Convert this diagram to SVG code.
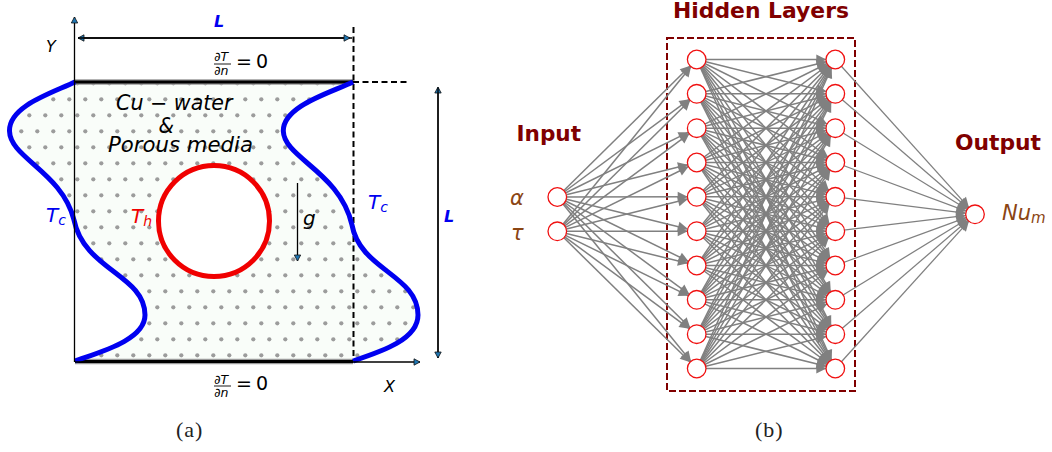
<svg xmlns="http://www.w3.org/2000/svg" width="1052" height="452" viewBox="0 0 1052 452">
<style>
.t{font-family:"DejaVu Sans",sans-serif}
.i{font-style:italic}
.ax{stroke:#000;stroke-width:1.3;fill:none;marker-end:url(#ah)}
.wb{stroke:#9a9a9a;stroke-width:5.500;fill:none}
.wk{stroke:#000;stroke-width:3;fill:none}
.dash{stroke:#000;stroke-width:2;stroke-dasharray:6 3.500;fill:none}
.blue{stroke:#0000f0;stroke-width:5;fill:none}
.hd{font-family:"DejaVu Sans",sans-serif;font-weight:bold;fill:#800000}
.br{fill:#8b4513;font-size:21px;font-style:italic;font-family:"DejaVu Sans",sans-serif}
.cap{font-family:"Liberation Serif",serif;font-size:22px;letter-spacing:1px;fill:#222}
.n{fill:#fff;stroke:#f01010;stroke-width:1.3}
#conn line{stroke:#808080;stroke-width:1.5;marker-end:url(#gh)}
#conn g.o line{stroke-width:1.25}
</style>
<defs>
<pattern id="dots" patternUnits="userSpaceOnUse" width="16" height="32">
<rect width="16" height="32" fill="#f9fdf9"/>
<circle cx="5.3" cy="3.3" r="2.100" fill="#9c9c9c"/>
<circle cx="13.3" cy="19.3" r="2.100" fill="#9c9c9c"/>
</pattern>
<marker id="gh" markerUnits="userSpaceOnUse" markerWidth="20" markerHeight="12" refX="19" refY="5" orient="auto" overflow="visible">
<path d="M0,0L10,5L0,10z" fill="#808080"/>
</marker>
<marker id="ah" markerUnits="userSpaceOnUse" markerWidth="8" markerHeight="8" refX="6" refY="3.2" orient="auto" overflow="visible">
<path d="M0,0L6,3.2L0,6.4z" fill="#1f77b4" stroke="#111" stroke-width="0.8"/>
</marker>
</defs>

<g id="panel-a">
<path id="domain" fill="url(#dots)" d="M75,82 C52,93 9,106 9.5,131 C10,158 62,172 74,220 C84,270 145,275 145,315 C145,340 100,352 75,361 L353,361 C380,352 418,340 418,315 C418,275 360,270 352,225 C340,172 284,158 283.3,131 C283,106 330,93 353,82 Z"/>
<line class="wb" x1="75" y1="82" x2="353" y2="82"/>
<line class="wk" x1="75" y1="82" x2="353" y2="82"/>
<line class="wb" x1="75" y1="361.500" x2="353" y2="361.500"/>
<line class="wk" x1="75" y1="361.500" x2="353" y2="361.500"/>
<line class="dash" x1="353.500" y1="27" x2="353.500" y2="361"/>
<line class="dash" x1="353" y1="82" x2="410" y2="82"/>
<path class="blue" d="M75,82 C52,93 9,106 9.5,131 C10,158 62,172 74,220 C84,270 145,275 145,315 C145,340 100,352 75,361"/>
<path class="blue" d="M353,82 C330,93 283,106 283.3,131 C284,158 340,172 352,225 C360,270 418,275 418,315 C418,340 380,352 353,361"/>
<line class="ax" x1="74.500" y1="362" x2="74.500" y2="17"/>
<line class="ax" x1="75" y1="362" x2="420" y2="362"/>
<line class="ax" x1="352" y1="38" x2="78" y2="38"/>
<line class="ax" x1="78" y1="38" x2="350" y2="38"/>
<line class="ax" x1="438" y1="358" x2="438" y2="87"/>
<line class="ax" x1="438" y1="88" x2="438" y2="358"/>
<line class="ax" x1="297.500" y1="183" x2="297.500" y2="261"/>
<circle id="cylinder" cx="214" cy="221" r="55.500" fill="#fff" stroke="#f00000" stroke-width="5"/>
<text class="t i" x="214" y="27" font-size="16" font-weight="bold" fill="#0000f0">L</text>
<text class="t i" x="46" y="52" font-size="16">Y</text>
<text class="t i" x="214" y="61" font-size="12.500">∂T</text>
<line x1="214" y1="64" x2="231" y2="64" stroke="#000" stroke-width="0.900"/>
<text class="t i" x="214" y="75" font-size="12.500">∂n</text>
<text class="t" x="236" y="68" font-size="19" word-spacing="-2">= 0</text>
<text class="t i" x="116" y="110" font-size="20.500" textLength="116.500" lengthAdjust="spacingAndGlyphs">Cu − water</text>
<text class="t i" x="158.500" y="132.700" font-size="20.500" textLength="15.500" lengthAdjust="spacingAndGlyphs">&amp;</text>
<text class="t i" x="108" y="152" font-size="20.500" textLength="145" lengthAdjust="spacingAndGlyphs">Porous media</text>
<text class="t i" x="46" y="222" font-size="20" fill="#0000f0">T<tspan font-size="14" dy="3">c</tspan></text>
<text class="t i" x="131" y="223" font-size="20" fill="#f00000">T<tspan font-size="14" dy="3">h</tspan></text>
<text class="t i" x="303" y="225" font-size="20">g</text>
<text class="t i" x="368" y="209" font-size="20" fill="#0000f0">T<tspan font-size="14" dy="3">c</tspan></text>
<text class="t i" x="444" y="222" font-size="16" font-weight="bold" fill="#0000f0">L</text>
<text class="t i" x="214" y="384" font-size="12.500">∂T</text>
<line x1="214" y1="386" x2="231" y2="386" stroke="#000" stroke-width="0.900"/>
<text class="t i" x="214" y="397" font-size="12.500">∂n</text>
<text class="t" x="236" y="390" font-size="19" word-spacing="-2">= 0</text>
<text class="t i" x="384" y="392" font-size="16">X</text>
<text class="cap" x="176" y="437">(a)</text>
</g>

<g id="panel-b">
<rect id="hidden-box" x="667" y="38" width="188" height="353" fill="none" stroke="#800000" stroke-width="2" stroke-dasharray="7 3"/>
<g id="conn">
<g>
<line x1="557.300" y1="197" x2="696.700" y2="59.500"/><line x1="557.300" y1="197" x2="696.700" y2="93.800"/><line x1="557.300" y1="197" x2="696.700" y2="128.200"/><line x1="557.300" y1="197" x2="696.700" y2="162.500"/><line x1="557.300" y1="197" x2="696.700" y2="196.800"/><line x1="557.300" y1="197" x2="696.700" y2="231.200"/><line x1="557.300" y1="197" x2="696.700" y2="265.500"/><line x1="557.300" y1="197" x2="696.700" y2="299.800"/><line x1="557.300" y1="197" x2="696.700" y2="334.200"/><line x1="557.300" y1="197" x2="696.700" y2="368.500"/>
<line x1="557.300" y1="231.300" x2="696.700" y2="59.500"/><line x1="557.300" y1="231.300" x2="696.700" y2="93.800"/><line x1="557.300" y1="231.300" x2="696.700" y2="128.200"/><line x1="557.300" y1="231.300" x2="696.700" y2="162.500"/><line x1="557.300" y1="231.300" x2="696.700" y2="196.800"/><line x1="557.300" y1="231.300" x2="696.700" y2="231.200"/><line x1="557.300" y1="231.300" x2="696.700" y2="265.500"/><line x1="557.300" y1="231.300" x2="696.700" y2="299.800"/><line x1="557.300" y1="231.300" x2="696.700" y2="334.200"/><line x1="557.300" y1="231.300" x2="696.700" y2="368.500"/>
</g>
<g>
<line x1="696.700" y1="59.500" x2="835.300" y2="59.500"/><line x1="696.700" y1="59.500" x2="835.300" y2="93.800"/><line x1="696.700" y1="59.500" x2="835.300" y2="128.200"/><line x1="696.700" y1="59.500" x2="835.300" y2="162.500"/><line x1="696.700" y1="59.500" x2="835.300" y2="196.800"/><line x1="696.700" y1="59.500" x2="835.300" y2="231.200"/><line x1="696.700" y1="59.500" x2="835.300" y2="265.500"/><line x1="696.700" y1="59.500" x2="835.300" y2="299.800"/><line x1="696.700" y1="59.500" x2="835.300" y2="334.200"/><line x1="696.700" y1="59.500" x2="835.300" y2="368.500"/>
<line x1="696.700" y1="93.800" x2="835.300" y2="59.500"/><line x1="696.700" y1="93.800" x2="835.300" y2="93.800"/><line x1="696.700" y1="93.800" x2="835.300" y2="128.200"/><line x1="696.700" y1="93.800" x2="835.300" y2="162.500"/><line x1="696.700" y1="93.800" x2="835.300" y2="196.800"/><line x1="696.700" y1="93.800" x2="835.300" y2="231.200"/><line x1="696.700" y1="93.800" x2="835.300" y2="265.500"/><line x1="696.700" y1="93.800" x2="835.300" y2="299.800"/><line x1="696.700" y1="93.800" x2="835.300" y2="334.200"/><line x1="696.700" y1="93.800" x2="835.300" y2="368.500"/>
<line x1="696.700" y1="128.200" x2="835.300" y2="59.500"/><line x1="696.700" y1="128.200" x2="835.300" y2="93.800"/><line x1="696.700" y1="128.200" x2="835.300" y2="128.200"/><line x1="696.700" y1="128.200" x2="835.300" y2="162.500"/><line x1="696.700" y1="128.200" x2="835.300" y2="196.800"/><line x1="696.700" y1="128.200" x2="835.300" y2="231.200"/><line x1="696.700" y1="128.200" x2="835.300" y2="265.500"/><line x1="696.700" y1="128.200" x2="835.300" y2="299.800"/><line x1="696.700" y1="128.200" x2="835.300" y2="334.200"/><line x1="696.700" y1="128.200" x2="835.300" y2="368.500"/>
<line x1="696.700" y1="162.500" x2="835.300" y2="59.500"/><line x1="696.700" y1="162.500" x2="835.300" y2="93.800"/><line x1="696.700" y1="162.500" x2="835.300" y2="128.200"/><line x1="696.700" y1="162.500" x2="835.300" y2="162.500"/><line x1="696.700" y1="162.500" x2="835.300" y2="196.800"/><line x1="696.700" y1="162.500" x2="835.300" y2="231.200"/><line x1="696.700" y1="162.500" x2="835.300" y2="265.500"/><line x1="696.700" y1="162.500" x2="835.300" y2="299.800"/><line x1="696.700" y1="162.500" x2="835.300" y2="334.200"/><line x1="696.700" y1="162.500" x2="835.300" y2="368.500"/>
<line x1="696.700" y1="196.800" x2="835.300" y2="59.500"/><line x1="696.700" y1="196.800" x2="835.300" y2="93.800"/><line x1="696.700" y1="196.800" x2="835.300" y2="128.200"/><line x1="696.700" y1="196.800" x2="835.300" y2="162.500"/><line x1="696.700" y1="196.800" x2="835.300" y2="196.800"/><line x1="696.700" y1="196.800" x2="835.300" y2="231.200"/><line x1="696.700" y1="196.800" x2="835.300" y2="265.500"/><line x1="696.700" y1="196.800" x2="835.300" y2="299.800"/><line x1="696.700" y1="196.800" x2="835.300" y2="334.200"/><line x1="696.700" y1="196.800" x2="835.300" y2="368.500"/>
<line x1="696.700" y1="231.200" x2="835.300" y2="59.500"/><line x1="696.700" y1="231.200" x2="835.300" y2="93.800"/><line x1="696.700" y1="231.200" x2="835.300" y2="128.200"/><line x1="696.700" y1="231.200" x2="835.300" y2="162.500"/><line x1="696.700" y1="231.200" x2="835.300" y2="196.800"/><line x1="696.700" y1="231.200" x2="835.300" y2="231.200"/><line x1="696.700" y1="231.200" x2="835.300" y2="265.500"/><line x1="696.700" y1="231.200" x2="835.300" y2="299.800"/><line x1="696.700" y1="231.200" x2="835.300" y2="334.200"/><line x1="696.700" y1="231.200" x2="835.300" y2="368.500"/>
<line x1="696.700" y1="265.500" x2="835.300" y2="59.500"/><line x1="696.700" y1="265.500" x2="835.300" y2="93.800"/><line x1="696.700" y1="265.500" x2="835.300" y2="128.200"/><line x1="696.700" y1="265.500" x2="835.300" y2="162.500"/><line x1="696.700" y1="265.500" x2="835.300" y2="196.800"/><line x1="696.700" y1="265.500" x2="835.300" y2="231.200"/><line x1="696.700" y1="265.500" x2="835.300" y2="265.500"/><line x1="696.700" y1="265.500" x2="835.300" y2="299.800"/><line x1="696.700" y1="265.500" x2="835.300" y2="334.200"/><line x1="696.700" y1="265.500" x2="835.300" y2="368.500"/>
<line x1="696.700" y1="299.800" x2="835.300" y2="59.500"/><line x1="696.700" y1="299.800" x2="835.300" y2="93.800"/><line x1="696.700" y1="299.800" x2="835.300" y2="128.200"/><line x1="696.700" y1="299.800" x2="835.300" y2="162.500"/><line x1="696.700" y1="299.800" x2="835.300" y2="196.800"/><line x1="696.700" y1="299.800" x2="835.300" y2="231.200"/><line x1="696.700" y1="299.800" x2="835.300" y2="265.500"/><line x1="696.700" y1="299.800" x2="835.300" y2="299.800"/><line x1="696.700" y1="299.800" x2="835.300" y2="334.200"/><line x1="696.700" y1="299.800" x2="835.300" y2="368.500"/>
<line x1="696.700" y1="334.200" x2="835.300" y2="59.500"/><line x1="696.700" y1="334.200" x2="835.300" y2="93.800"/><line x1="696.700" y1="334.200" x2="835.300" y2="128.200"/><line x1="696.700" y1="334.200" x2="835.300" y2="162.500"/><line x1="696.700" y1="334.200" x2="835.300" y2="196.800"/><line x1="696.700" y1="334.200" x2="835.300" y2="231.200"/><line x1="696.700" y1="334.200" x2="835.300" y2="265.500"/><line x1="696.700" y1="334.200" x2="835.300" y2="299.800"/><line x1="696.700" y1="334.200" x2="835.300" y2="334.200"/><line x1="696.700" y1="334.200" x2="835.300" y2="368.500"/>
<line x1="696.700" y1="368.500" x2="835.300" y2="59.500"/><line x1="696.700" y1="368.500" x2="835.300" y2="93.800"/><line x1="696.700" y1="368.500" x2="835.300" y2="128.200"/><line x1="696.700" y1="368.500" x2="835.300" y2="162.500"/><line x1="696.700" y1="368.500" x2="835.300" y2="196.800"/><line x1="696.700" y1="368.500" x2="835.300" y2="231.200"/><line x1="696.700" y1="368.500" x2="835.300" y2="265.500"/><line x1="696.700" y1="368.500" x2="835.300" y2="299.800"/><line x1="696.700" y1="368.500" x2="835.300" y2="334.200"/><line x1="696.700" y1="368.500" x2="835.300" y2="368.500"/>
</g>
<g class="o">
<line x1="835.300" y1="59.500" x2="975" y2="214.300"/><line x1="835.300" y1="93.800" x2="975" y2="214.300"/><line x1="835.300" y1="128.200" x2="975" y2="214.300"/><line x1="835.300" y1="162.500" x2="975" y2="214.300"/><line x1="835.300" y1="196.800" x2="975" y2="214.300"/><line x1="835.300" y1="231.200" x2="975" y2="214.300"/><line x1="835.300" y1="265.500" x2="975" y2="214.300"/><line x1="835.300" y1="299.800" x2="975" y2="214.300"/><line x1="835.300" y1="334.200" x2="975" y2="214.300"/><line x1="835.300" y1="368.500" x2="975" y2="214.300"/>
</g>
</g>
<g id="input-alpha"><circle class="n" cx="557.300" cy="197" r="9.300"/><text class="br" x="510" y="205">α</text></g>
<g id="input-tau"><circle class="n" cx="557.300" cy="231.300" r="9.300"/><text class="br" x="511" y="240">τ</text></g>
<g id="h1-1"><circle class="n" cx="696.700" cy="59.500" r="9.300"/></g>
<g id="h1-2"><circle class="n" cx="696.700" cy="93.800" r="9.300"/></g>
<g id="h1-3"><circle class="n" cx="696.700" cy="128.200" r="9.300"/></g>
<g id="h1-4"><circle class="n" cx="696.700" cy="162.500" r="9.300"/></g>
<g id="h1-5"><circle class="n" cx="696.700" cy="196.800" r="9.300"/></g>
<g id="h1-6"><circle class="n" cx="696.700" cy="231.200" r="9.300"/></g>
<g id="h1-7"><circle class="n" cx="696.700" cy="265.500" r="9.300"/></g>
<g id="h1-8"><circle class="n" cx="696.700" cy="299.800" r="9.300"/></g>
<g id="h1-9"><circle class="n" cx="696.700" cy="334.200" r="9.300"/></g>
<g id="h1-10"><circle class="n" cx="696.700" cy="368.500" r="9.300"/></g>
<g id="h2-1"><circle class="n" cx="835.300" cy="59.500" r="9.300"/></g>
<g id="h2-2"><circle class="n" cx="835.300" cy="93.800" r="9.300"/></g>
<g id="h2-3"><circle class="n" cx="835.300" cy="128.200" r="9.300"/></g>
<g id="h2-4"><circle class="n" cx="835.300" cy="162.500" r="9.300"/></g>
<g id="h2-5"><circle class="n" cx="835.300" cy="196.800" r="9.300"/></g>
<g id="h2-6"><circle class="n" cx="835.300" cy="231.200" r="9.300"/></g>
<g id="h2-7"><circle class="n" cx="835.300" cy="265.500" r="9.300"/></g>
<g id="h2-8"><circle class="n" cx="835.300" cy="299.800" r="9.300"/></g>
<g id="h2-9"><circle class="n" cx="835.300" cy="334.200" r="9.300"/></g>
<g id="h2-10"><circle class="n" cx="835.300" cy="368.500" r="9.300"/></g>
<g id="output"><circle class="n" cx="975" cy="214.300" r="9.300"/><text class="br" x="1002" y="219.500" font-size="20.500">Nu<tspan font-size="15" dy="3">m</tspan></text></g>
<text class="hd" x="673" y="18.300" font-size="21" textLength="176" lengthAdjust="spacingAndGlyphs">Hidden Layers</text>
<text class="hd" x="516.500" y="140.500" font-size="21" textLength="64.500" lengthAdjust="spacingAndGlyphs">Input</text>
<text class="hd" x="955" y="150.300" font-size="21" textLength="86" lengthAdjust="spacingAndGlyphs">Output</text>
<text class="cap" x="755" y="437">(b)</text>
</g>
</svg>
